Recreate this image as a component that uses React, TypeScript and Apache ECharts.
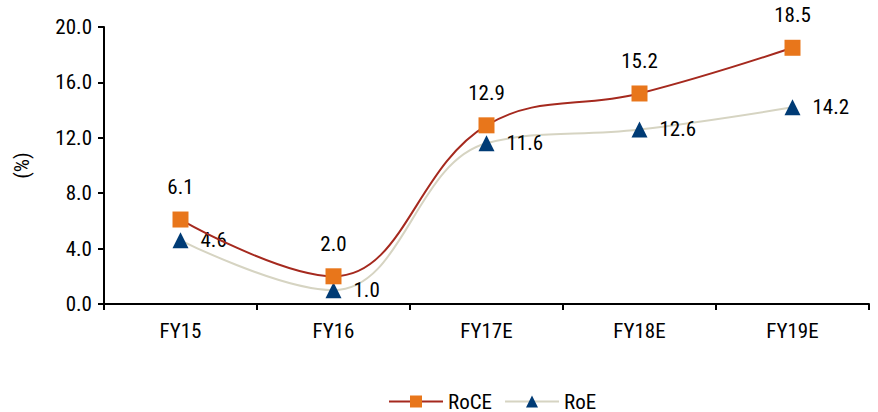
import React, { useEffect, useRef } from "react";
import * as echarts from "echarts";

const categories = ["FY15", "FY16", "FY17E", "FY18E", "FY19E"];
const roce = [6.1, 2.0, 12.9, 15.2, 18.5];
const roe = [4.6, 1.0, 11.6, 12.6, 14.2];
const yTicks = { min: 0, max: 20, interval: 4 };

const FONT = "'Liberation Sans Narrow', 'Roboto Condensed', 'Arial Narrow', Roboto, sans-serif";
const FS = 21;

export default function App() {
  const ref = useRef<HTMLDivElement>(null);
  useEffect(() => {
    if (!ref.current) return;
    const chart = echarts.init(ref.current, undefined, { renderer: "svg" });
    const valueLabel = (p: any) => Number(p.value).toFixed(1);
    chart.setOption({
      animation: false,
      textStyle: { fontFamily: FONT },
      grid: { left: 104, right: 9, top: 27, bottom: 108 },
      legend: {
        top: 391,
        left: 388,
        padding: 0,
        itemWidth: 54,
        itemHeight: 15,
        itemGap: 12,
        textStyle: { fontFamily: FONT, fontSize: FS, color: "#000" },
        data: ["RoCE", "RoE"],
      },
      xAxis: {
        type: "category",
        data: categories,
        boundaryGap: true,
        axisLine: { lineStyle: { color: "#000", width: 2 } },
        axisTick: { show: true, length: 6, lineStyle: { color: "#000", width: 2 } },
        axisLabel: { color: "#000", fontSize: FS, fontFamily: FONT, margin: 16 },
      },
      yAxis: {
        type: "value",
        ...yTicks,
        name: "(%)",
        nameLocation: "middle",
        nameGap: 72,
        nameRotate: 90,
        nameTextStyle: { color: "#000", fontSize: FS, fontFamily: FONT },
        axisLine: { show: true, lineStyle: { color: "#000", width: 2 } },
        axisTick: { show: true, length: 6, lineStyle: { color: "#000", width: 2 } },
        splitLine: { show: false },
        axisLabel: {
          color: "#000",
          fontSize: FS,
          fontFamily: FONT,
          margin: 12,
          formatter: (v: number) => v.toFixed(1),
        },
      },
      series: [
        {
          name: "RoCE",
          type: "line",
          data: roce,
          smooth: 0.4,
          symbol: "rect",
          symbolSize: 16,
          lineStyle: { color: "#A5291E", width: 2 },
          itemStyle: { color: "#E8761B" },
          label: {
            show: true,
            position: "top",
            distance: 14,
            color: "#000",
            fontSize: FS,
            fontFamily: FONT,
            formatter: valueLabel,
          },
          z: 3,
        },
        {
          name: "RoE",
          type: "line",
          data: roe,
          smooth: 0.4,
          symbol: "triangle",
          symbolSize: 16,
          lineStyle: { color: "#D6D4C2", width: 2 },
          itemStyle: { color: "#003B75" },
          label: {
            show: true,
            position: "right",
            distance: 12,
            color: "#000",
            fontSize: FS,
            fontFamily: FONT,
            formatter: valueLabel,
          },
          z: 2,
        },
      ],
    });
    return () => chart.dispose();
  }, []);
  return <div ref={ref} style={{ width: 878, height: 412, position: "absolute", left: 0, top: 0 }} />;
}
